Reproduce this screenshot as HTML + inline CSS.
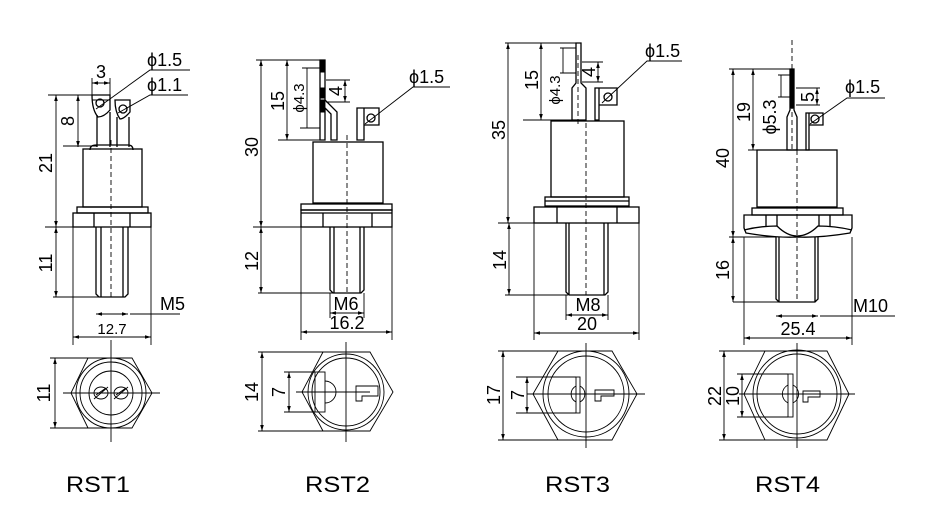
<!DOCTYPE html>
<html><head><meta charset="utf-8"><style>
html,body{margin:0;padding:0;background:#fff;}
svg{display:block;font-family:"Liberation Sans","DejaVu Sans",sans-serif;}
</style></head><body>
<svg width="925" height="518" viewBox="0 0 925 518" xmlns="http://www.w3.org/2000/svg">
<defs>
<marker id="a" viewBox="0 0 10 6" refX="10" refY="3" markerWidth="7" markerHeight="4" orient="auto-start-reverse"><path d="M0,0L10,3L0,6z" fill="#000"/></marker>
</defs>
<g fill="none" stroke="#000" stroke-width="1.3">
<path d="M92,95H110V110Q104,117 98,117Q92,110 92,95Z"/>
<path d="M97,115V147M110,112V147"/>
<path d="M115,100H130V112Q124,119 120,119Q115,112 115,100Z"/>
<path d="M117,117V147M129,117V147"/>
<path d="M90,150Q90,145 96,145H128Q133,145 133,150"/>
<rect x="83" y="149" width="59" height="58"/>
<rect x="77" y="207" width="71" height="6"/>
<rect x="73" y="213" width="78" height="14"/>
<path d="M94,213V227M130,213V227"/>
<path d="M96,227V294L99,297H125L128,294V227M101,227V297M123,227V297"/>
<circle cx="100" cy="103" r="4"/>
<circle cx="123" cy="109" r="4"/>
</g>
<g fill="none" stroke="#000" stroke-width="0.9">
<path d="M111,140V297" stroke-dasharray="5,3"/>
<path d="M48,95H92M63,146H97M45,227H96M53,297H100M73,227V345M151,227V345M92,78V95M110,78V95"/>
<path d="M56,95V227" marker-start="url(#a)" marker-end="url(#a)"/>
<path d="M56,227V297" marker-start="url(#a)" marker-end="url(#a)"/>
<path d="M78,95V147" marker-start="url(#a)" marker-end="url(#a)"/>
<path d="M92,83H110" marker-start="url(#a)" marker-end="url(#a)"/>
<path d="M96,314H128" marker-start="url(#a)" marker-end="url(#a)"/>
<path d="M130,314H180"/>
<path d="M73,337H151" marker-start="url(#a)" marker-end="url(#a)"/>
<path d="M96,109L150,70H190M118,113L150,95H188M92,100H110"/>
<path d="M71,393L88,358H132L152,393L132,428H88Z"/>
<circle cx="111" cy="393" r="35"/><circle cx="111" cy="393" r="31"/><circle cx="111" cy="393" r="22"/>
<ellipse cx="101" cy="393" rx="7" ry="6"/><ellipse cx="121" cy="393" rx="7" ry="6"/>
<path d="M94,399L108,387M114,399L128,387M96,395L106,388M116,395L126,388"/>
<path d="M63,393H160M111,340V442"/>
<path d="M50,358H88M50,428H88"/>
<path d="M55,358V428" marker-start="url(#a)" marker-end="url(#a)"/>

<g stroke-width="1.3">
<path d="M320,60H325V100L337,112V140H331V114L325,108V140H320Z"/>
<path d="M357,108H364V140H357ZM364,108H379V125H364Z"/>
<circle cx="371" cy="118" r="4"/>
<rect x="313" y="142" width="70" height="61"/>
<rect x="301" y="204" width="91" height="6"/>
<rect x="301" y="210" width="91" height="17"/>
<path d="M301,213H392M323,213V227M372,213V227"/>
<path d="M330,227V290L333,293H361L364,290V227M334,227V293M360,227V293"/>
</g>
<path d="M320,60H325V72H320ZM320,88H325V98H320ZM320,100H325V112H320Z" fill="#000"/>
<path d="M347,135V293" stroke-dasharray="5,3"/>
<path d="M256,60H320M278,140H320M302,68H320M300,128H320M326,80H350M326,102H350M253,227H301M258,293H333M301,227V340M392,227V340M330,293V318M364,293V318"/>
<path d="M261,60V227" marker-start="url(#a)" marker-end="url(#a)"/>
<path d="M261,227V293" marker-start="url(#a)" marker-end="url(#a)"/>
<path d="M287,60V140" marker-start="url(#a)" marker-end="url(#a)"/>
<path d="M307,68V128"/>
<path d="M345,80V102" marker-start="url(#a)" marker-end="url(#a)"/>
<path d="M330,313H364" marker-start="url(#a)" marker-end="url(#a)"/>
<path d="M301,332H392" marker-start="url(#a)" marker-end="url(#a)"/>
<path d="M365,124L413,87H450"/>
<path d="M302,392L323,352H370L393,392L370,431H323Z"/>
<circle cx="346" cy="392" r="38"/><circle cx="346" cy="392" r="34"/>
<rect x="315" y="372" width="10" height="40"/>
<path d="M325,381A11,11 0 0 1 325,403"/>
<path d="M356,386H378V396H362V401H356Z"/>
<path d="M296,392H370M346,342V442"/>
<path d="M258,352H323M258,431H323M284,372H315M284,412H315"/>
<path d="M262,352V431" marker-start="url(#a)" marker-end="url(#a)"/>
<path d="M289,372V412" marker-start="url(#a)" marker-end="url(#a)"/>

<g stroke-width="1.3">
<path d="M576,43H581V83L586,88V120H572V88L576,83Z"/>
<path d="M595,88H599V120H595ZM599,88H617V105H599Z"/>
<circle cx="608" cy="97" r="4"/>
<rect x="551" y="121" width="73" height="76"/>
<rect x="545" y="197" width="84" height="9"/>
<path d="M545,201H629"/>
<rect x="534" y="207" width="105" height="16"/>
<path d="M557,207V223M617,207V223"/>
<path d="M566,223V292L569,295H605L608,292V223M569,223V295M604,223V295"/>
</g>
<path d="M586,123V295" stroke-dasharray="5,3"/>
<path d="M578,55V125" stroke-dasharray="5,3"/>
<path d="M505,43H576M523,120H572M560,48H576M560,73H576M582,62H603M582,82H603M498,223H534M505,295H568M534,223V340M639,223V340M566,295V320M608,295V320"/>
<path d="M508,43V223" marker-start="url(#a)" marker-end="url(#a)"/>
<path d="M509,223V295" marker-start="url(#a)" marker-end="url(#a)"/>
<path d="M541,43V120" marker-start="url(#a)" marker-end="url(#a)"/>
<path d="M563,48V73"/>
<path d="M598,62V82" marker-start="url(#a)" marker-end="url(#a)"/>
<path d="M566,315H608" marker-start="url(#a)" marker-end="url(#a)"/>
<path d="M534,333H639" marker-start="url(#a)" marker-end="url(#a)"/>
<path d="M602,103L647,61H682"/>
<path d="M533,394L558,351H612L637,394L612,440H558Z"/>
<circle cx="586" cy="394" r="43"/><circle cx="586" cy="394" r="38"/>
<rect x="576" y="377" width="4" height="36"/>
<path d="M576,386A9,9 0 0 0 576,402M580,386A9,9 0 0 1 580,402"/>
<path d="M595,390H614V396H601V401H595Z"/>
<path d="M527,394H645M586,343V448"/>
<path d="M498,351H558M498,440H558M516,377H576M516,413H576"/>
<path d="M503,351V440" marker-start="url(#a)" marker-end="url(#a)"/>
<path d="M527,377V413" marker-start="url(#a)" marker-end="url(#a)"/>

<g stroke-width="1.3">
<path d="M790,69H794V110L797,117V150H787V117L790,110Z"/>
<path d="M806,113H809V150H806ZM809,113H823V125H809Z"/>
<circle cx="815" cy="119" r="4"/>
<rect x="757" y="150" width="80" height="57"/>
<rect x="752" y="208" width="91" height="7"/>
<path d="M744,215H852V228L850,233Q820,238 797,237Q775,238 746,233L744,228Z"/>
<path d="M744,230Q760,226 777,226Q787,236 797,236Q808,236 818,226Q835,226 852,230"/>
<path d="M766,215V226M777,215V226M819,215V226M830,215V226"/>
<path d="M776,237V299L779,302H815L818,299V237M779,237V302M815,237V302"/>
</g>
<path d="M790,69H794V108H790Z" fill="#000"/>
<path d="M797,150V302" stroke-dasharray="5,3"/>
<path d="M792,40V150" stroke-dasharray="5,3"/>
<path d="M729,69H790M748,150H787M778,75H790M778,97H790M796,88H820M796,105H820M729,237H776M733,302H780M744,237V345M852,237V345"/>
<path d="M733,69V237" marker-start="url(#a)" marker-end="url(#a)"/>
<path d="M733,237V302" marker-start="url(#a)" marker-end="url(#a)"/>
<path d="M753,69V150" marker-start="url(#a)" marker-end="url(#a)"/>
<path d="M781,75V97"/>
<path d="M817,88V105" marker-start="url(#a)" marker-end="url(#a)"/>
<path d="M776,316H818" marker-start="url(#a)" marker-end="url(#a)"/>
<path d="M820,316H895"/>
<path d="M744,338H852" marker-start="url(#a)" marker-end="url(#a)"/>
<path d="M810,124L847,98H885"/>
<path d="M744,394L765,351H827L849,394L827,440H765Z"/>
<circle cx="797" cy="394" r="44"/><circle cx="797" cy="394" r="40"/>
<rect x="788" y="374" width="5" height="43"/>
<path d="M788,385A10,10 0 0 0 788,403M793,385A10,10 0 0 1 793,403"/>
<path d="M803,391H820V397H808V402H803Z"/>
<path d="M739,394H855M797,343V448"/>
<path d="M719,351H765M719,440H765M737,374H788M737,417H788"/>
<path d="M724,351V440" marker-start="url(#a)" marker-end="url(#a)"/>
<path d="M742,374V417" marker-start="url(#a)" marker-end="url(#a)"/>
</g>

<g fill="#000" font-size="18">
<text x="101" y="78" text-anchor="middle">3</text>
<text x="147" y="66">ϕ1.5</text>
<text x="147" y="91">ϕ1.1</text>
<text transform="translate(52,163) rotate(-90)" text-anchor="middle">21</text>
<text transform="translate(52,263) rotate(-90)" text-anchor="middle">11</text>
<text transform="translate(74,121) rotate(-90)" text-anchor="middle">8</text>
<text x="160" y="310">M5</text>
<text x="112" y="334" text-anchor="middle" font-size="15">12.7</text>
<text transform="translate(50,393) rotate(-90)" text-anchor="middle">11</text>
<text x="409" y="83">ϕ1.5</text>
<text transform="translate(258,147) rotate(-90)" text-anchor="middle">30</text>
<text transform="translate(258,261) rotate(-90)" text-anchor="middle">12</text>
<text transform="translate(284,101) rotate(-90)" text-anchor="middle">15</text>
<text transform="translate(304,98) rotate(-90)" text-anchor="middle" font-size="15">ϕ4.3</text>
<text transform="translate(342,91) rotate(-90)" text-anchor="middle">4</text>
<text x="346" y="310" text-anchor="middle">M6</text>
<text x="347" y="329" text-anchor="middle">16.2</text>
<text transform="translate(258,392) rotate(-90)" text-anchor="middle">14</text>
<text transform="translate(285,392) rotate(-90)" text-anchor="middle">7</text>
<text x="645" y="57">ϕ1.5</text>
<text transform="translate(505,130) rotate(-90)" text-anchor="middle">35</text>
<text transform="translate(506,260) rotate(-90)" text-anchor="middle">14</text>
<text transform="translate(538,80) rotate(-90)" text-anchor="middle">15</text>
<text transform="translate(560,90) rotate(-90)" text-anchor="middle" font-size="15">ϕ4.3</text>
<text transform="translate(595,72) rotate(-90)" text-anchor="middle">4</text>
<text x="588" y="311" text-anchor="middle">M8</text>
<text x="587" y="330" text-anchor="middle">20</text>
<text transform="translate(500,395) rotate(-90)" text-anchor="middle">17</text>
<text transform="translate(524,395) rotate(-90)" text-anchor="middle">7</text>
<text x="845" y="93">ϕ1.5</text>
<text transform="translate(729,158) rotate(-90)" text-anchor="middle">40</text>
<text transform="translate(729,270) rotate(-90)" text-anchor="middle">16</text>
<text transform="translate(750,112) rotate(-90)" text-anchor="middle">19</text>
<text transform="translate(776,117) rotate(-90)" text-anchor="middle">ϕ5.3</text>
<text transform="translate(814,97) rotate(-90)" text-anchor="middle">5</text>
<text x="853" y="312">M10</text>
<text x="798" y="335" text-anchor="middle">25.4</text>
<text transform="translate(721,396) rotate(-90)" text-anchor="middle">22</text>
<text transform="translate(739,396) rotate(-90)" text-anchor="middle">10</text>
</g>
<g fill="#000" font-size="22">
<text x="66" y="492" textLength="64" lengthAdjust="spacingAndGlyphs">RST1</text>
<text x="305" y="492" textLength="65" lengthAdjust="spacingAndGlyphs">RST2</text>
<text x="545" y="492" textLength="65" lengthAdjust="spacingAndGlyphs">RST3</text>
<text x="755" y="492" textLength="65" lengthAdjust="spacingAndGlyphs">RST4</text>
</g>
</svg>
</body></html>
